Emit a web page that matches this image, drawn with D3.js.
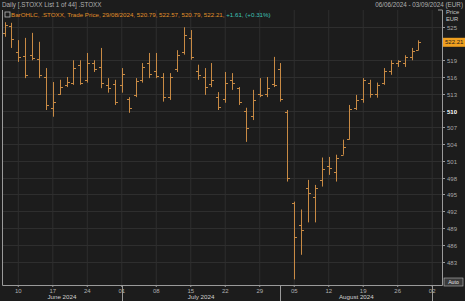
<!DOCTYPE html>
<html lang="en">
<head>
    <meta charset="UTF-8">
    <title>STOXX daily bars</title>
    <script src="https://d3js.org/d3.v7.min.js"></script>
    <style>
        body { margin: 0; background: #1c1c1c; }
        svg { display: block; }
        text { font-family: "Liberation Sans", Arial, sans-serif; }
    </style>
</head>
<body>
<script>
    const width = 465;
    const height = 301;

    // trading days (plus the empty days at the end of the range)
    const dates = [
        "2024-06-06","2024-06-07","2024-06-10","2024-06-11","2024-06-12","2024-06-13","2024-06-14",
        "2024-06-17","2024-06-18","2024-06-19","2024-06-20","2024-06-21","2024-06-24","2024-06-25",
        "2024-06-26","2024-06-27","2024-06-28","2024-07-01","2024-07-02","2024-07-03","2024-07-04",
        "2024-07-05","2024-07-08","2024-07-09","2024-07-10","2024-07-11","2024-07-12","2024-07-15",
        "2024-07-16","2024-07-17","2024-07-18","2024-07-19","2024-07-22","2024-07-23","2024-07-24",
        "2024-07-25","2024-07-26","2024-07-29","2024-07-30","2024-07-31","2024-08-01","2024-08-02",
        "2024-08-05","2024-08-06","2024-08-07","2024-08-08","2024-08-09","2024-08-12","2024-08-13",
        "2024-08-14","2024-08-15","2024-08-16","2024-08-19","2024-08-20","2024-08-21","2024-08-22",
        "2024-08-23","2024-08-26","2024-08-27","2024-08-28","2024-08-29","2024-08-30","2024-09-02",
        "2024-09-03"
    ];

    const open  = [523.8,525.2,520.5,519.8,520.0,519.3,516.0,510.5,513.0,514.5,515.0,518.2,515.5,518.5,
                   517.8,514.6,514.8,514.5,512.0,512.8,515.5,518.5,517.0,516.0,512.5,517.5,520.5,523.0,
                   517.0,516.0,514.8,512.5,512.0,515.5,514.0,510.0,509.0,513.0,513.0,514.8,517.5,509.8,
                   493.5,489.6,496.2,494.5,497.5,500.0,499.0,502.0,505.0,510.5,512.0,515.0,513.0,515.0,
                   517.0,518.5,518.5,519.5,520.79];
    const high  = [525.8,525.7,522.6,523.0,523.9,522.3,517.6,515.1,515.5,516.0,519.0,519.0,520.3,519.0,
                   521.2,515.8,515.5,517.6,512.4,515.8,518.5,520.3,520.3,516.7,516.7,520.8,524.9,524.4,
                   518.2,517.6,518.5,513.3,516.9,516.7,514.2,510.5,513.7,515.8,516.0,519.6,518.5,510.1,
                   493.7,492.3,497.6,496.7,501.6,501.7,502.1,504.8,511.0,512.8,515.8,515.5,515.0,517.6,
                   519.0,519.0,519.9,521.2,522.57];
    const low   = [523.2,521.2,518.7,515.8,519.0,515.8,510.1,508.9,512.8,514.2,514.6,514.6,515.0,516.9,
                   514.0,513.2,511.0,513.2,509.6,512.4,515.0,515.8,515.8,511.6,511.9,516.9,520.0,519.1,
                   515.5,512.8,514.2,510.1,511.4,513.7,511.0,504.4,508.3,512.4,512.4,514.2,511.6,497.3,
                   479.8,484.2,490.0,490.0,496.4,498.5,497.3,502.1,504.8,510.1,511.4,512.3,512.3,514.6,
                   516.4,517.8,517.8,519.0,520.79];
    const close = [525.3,522.8,519.6,516.4,519.4,516.4,511.0,511.6,514.3,515.1,517.7,515.0,518.5,517.5,
                   515.0,514.0,511.5,516.5,510.5,515.3,517.8,516.5,516.2,512.5,516.0,520.0,523.5,519.5,
                   516.3,514.2,515.5,510.6,515.0,515.0,511.5,506.8,511.8,512.8,514.0,514.6,512.0,498.0,
                   487.3,488.7,495.3,496.2,499.5,499.8,501.5,503.5,510.3,511.8,515.5,513.0,514.5,517.0,
                   518.5,518.8,519.5,520.6,522.21];

    const priceTicks = [525,519,516,513,510,507,504,501,498,495,492,489,486,483];
    const lastPrice = 522.21;
    const months = [["June 2024", "2024-06-06"], ["July 2024", "2024-07-01"], ["August 2024", "2024-08-01"], ["", "2024-09-02"]];

    const parse = d3.timeParse("%Y-%m-%d");
    const days = dates.map(parse);
    const bars = open.map((o, i) => ({date: days[i], o: o, h: high[i], l: low[i], c: close[i]}));

    const plot = {left: 2, right: 442, top: 10, bottom: 285};

    const x = d3.scaleLinear().domain([0, dates.length - 1]).range([4.5, 439.1]);
    const y = d3.scaleLinear().domain([483, 525]).range([261.5, 26.7]);

    const svg = d3.select("body").append("svg")
        .attr("width", width).attr("height", height);

    svg.append("rect").attr("width", width).attr("height", height).attr("fill", "#1c1c1c");

    // grid
    const mondays = days.map((d, i) => i).filter(i => days[i].getDay() === 1);
    svg.append("g").selectAll("line.v").data(mondays).join("line")
        .attr("x1", i => x(i)).attr("x2", i => x(i))
        .attr("y1", plot.top).attr("y2", plot.bottom)
        .attr("stroke", "#2e2e2e").attr("stroke-width", 1);
    svg.append("g").selectAll("line.h").data(priceTicks).join("line")
        .attr("x1", plot.left).attr("x2", plot.right)
        .attr("y1", d => Math.round(y(d)) + 0.5).attr("y2", d => Math.round(y(d)) + 0.5)
        .attr("stroke", "#2e2e2e").attr("stroke-width", 1);

    // frame
    svg.append("path")
        .attr("d", `M${plot.left + 0.5},${plot.top}V${plot.bottom + 0.5}H${plot.right + 0.5}V${plot.top}H${plot.right - 4}`)
        .attr("fill", "none").attr("stroke", "#9a9a9a").attr("stroke-width", 1);

    // title bar
    svg.append("text").attr("x", 2).attr("y", 7).attr("font-size", 6.3).attr("fill", "#b0b0b0")
        .text("Daily [.STOXX List 1 of 44] .STOXX");
    svg.append("text").attr("x", 463).attr("y", 7).attr("font-size", 6.3).attr("fill", "#b0b0b0")
        .attr("text-anchor", "end").text("06/06/2024 - 03/09/2024 (EUR)");

    // legend
    svg.append("rect").attr("x", 5).attr("y", 12).attr("width", 5).attr("height", 5)
        .attr("fill", "none").attr("stroke", "#bbbbbb").attr("stroke-width", 0.8);
    const leg = svg.append("text").attr("x", 11).attr("y", 17).attr("font-size", 6.2);
    leg.append("tspan").attr("fill", "#e0902a")
        .text("BarOHLC, .STOXX, Trade Price, 29/08/2024, 520.79, 522.57, 520.79, 522.21, ");
    leg.append("tspan").attr("fill", "#3ec3b5").text("+1.61, (+0.31%)");

    // bars
    const g = svg.append("g").attr("stroke", "#c88a44").attr("stroke-width", 1);
    bars.forEach((d, i) => {
        const cx = Math.round(x(i)) + 0.5;
        g.append("line").attr("x1", cx).attr("x2", cx).attr("y1", y(d.h)).attr("y2", y(d.l));
        g.append("line").attr("x1", cx - 2.5).attr("x2", cx).attr("y1", Math.round(y(d.o)) + 0.5).attr("y2", Math.round(y(d.o)) + 0.5);
        g.append("line").attr("x1", cx).attr("x2", cx + 2.5).attr("y1", Math.round(y(d.c)) + 0.5).attr("y2", Math.round(y(d.c)) + 0.5);
    });

    // price axis
    svg.append("text").attr("x", 446).attr("y", 14).attr("font-size", 5.8).attr("fill", "#c8c8c8").text("Price");
    svg.append("text").attr("x", 446).attr("y", 21).attr("font-size", 5.8).attr("fill", "#c8c8c8").text("EUR");
    const ya = svg.append("g").selectAll("g").data(priceTicks).join("g")
        .attr("transform", d => `translate(${plot.right},${Math.round(y(d)) + 0.5})`);
    ya.append("line").attr("x2", 3).attr("stroke", "#9a9a9a");
    ya.append("text").attr("x", 5).attr("dy", "0.35em").attr("font-size", 6)
        .attr("fill", d => d === 510 ? "#ffffff" : "#a8a8a8")
        .attr("font-weight", d => d === 510 ? "bold" : "normal")
        .text(d => d);
    svg.append("rect").attr("x", 443).attr("y", y(lastPrice) - 4.5).attr("width", 22).attr("height", 9)
        .attr("fill", "#f0a020");
    svg.append("text").attr("x", 445).attr("y", y(lastPrice)).attr("dy", "0.35em").attr("font-size", 6)
        .attr("fill", "#1c1c1c").text(lastPrice.toFixed(2));

    // autoscale box
    svg.append("rect").attr("x", 444).attr("y", 278).attr("width", 19).attr("height", 8)
        .attr("fill", "#3a3a3a").attr("stroke", "#bbbbbb").attr("stroke-width", 0.6);
    svg.append("text").attr("x", 453.5).attr("y", 284.3).attr("font-size", 5.2).attr("text-anchor", "middle")
        .attr("fill", "#e0e0e0").text("Auto");

    // date axis
    const fmtDay = d3.timeFormat("%d");
    const xa = svg.append("g").selectAll("g").data(mondays).join("g")
        .attr("transform", i => `translate(${x(i)},${plot.bottom})`);
    xa.append("line").attr("y2", 2).attr("stroke", "#9a9a9a");
    xa.append("text").attr("y", 7.5).attr("text-anchor", "middle").attr("font-size", 6)
        .attr("fill", "#b0b0b0").text(i => fmtDay(days[i]));

    const mIdx = months.map(m => dates.indexOf(m[1]));
    svg.append("g").selectAll("line").data(mIdx.slice(1)).join("line")
        .attr("x1", i => Math.round(x(i)) + 0.5).attr("x2", i => Math.round(x(i)) + 0.5)
        .attr("y1", plot.bottom).attr("y2", height)
        .attr("stroke", "#9a9a9a");
    svg.append("g").selectAll("text").data(months.slice(0, 3)).join("text")
        .attr("x", (m, k) => ((k === 0 ? plot.left : x(mIdx[k])) + x(mIdx[k + 1])) / 2)
        .attr("y", 299).attr("text-anchor", "middle").attr("font-size", 6.2)
        .attr("fill", "#d0d0d0").text(m => m[0]);
</script>
</body>
</html>
